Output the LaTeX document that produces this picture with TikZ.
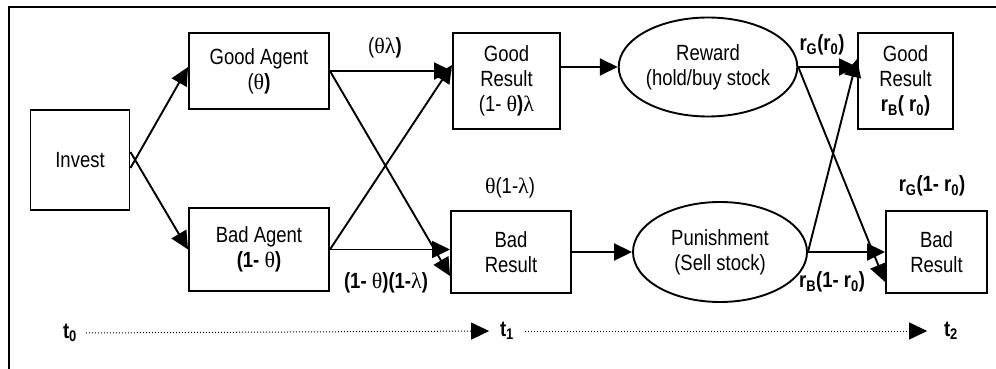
\documentclass[tikz,border=0pt]{standalone}
\usepackage{amsmath}
\usepackage{fontspec}
\setmainfont{Liberation Sans}[FakeStretch=0.84]
\newfontfamily\greekfont{Liberation Serif}
\newcommand{\gth}{{\greekfont θ}}
\newcommand{\glam}{{\greekfont λ}}
\usetikzlibrary{arrows.meta,shapes.geometric}

\tikzset{
  box/.style={draw,line width=1.9pt,inner sep=1pt,align=center},
  oval/.style={draw,ellipse,line width=1.9pt,inner sep=1pt,align=center},
  flow/.style={line width=1.9pt,-{Triangle[length=18pt,width=17pt]}},
  tline/.style={dotted,line width=1pt,-{Triangle[length=18pt,width=17pt]}},
  lbl/.style={inner sep=0.75pt,align=center}
}

\begin{document}
\begin{tikzpicture}[x=1pt,y=1pt,yscale=-1,xscale=1]
\fontsize{22}{25}\selectfont
\useasboundingbox (0,0) rectangle (996,369);

%Frame
\draw[line width=1.6pt] (9,369) -- (9,7) -- (996,7);

%Shapes
\node[box,minimum width=99,minimum height=100] (invest) at (80,160) {Invest};
\node[box,minimum width=140,minimum height=76] (goodagent) at (259,71) {Good Agent\\(\gth\textbf{)}};
\node[box,minimum width=140,minimum height=83] (badagent) at (259,249.5) {Bad Agent\\\textbf{(1-} \gth\textbf{)}};
\node[box,minimum width=107,minimum height=96] (goodres) at (506.5,81) {Good\\Result\\(1- \gth\textbf{)}\glam};
\node[box,minimum width=120,minimum height=82] (badres) at (511,252) {Bad\\Result};
\node[oval,minimum width=171,minimum height=99] (reward) at (708,67) {Reward\\(hold/buy stock};
\node[oval,minimum width=174,minimum height=100] (punish) at (720,252) {Punishment\\(Sell stock)};
\node[box,minimum width=95,minimum height=96] (goodres2) at (905.5,81) {Good\\Result\\\textbf{r\textsubscript{B}( r\textsubscript{0})}};
\node[box,minimum width=101,minimum height=82] (badres2) at (936.5,252) {Bad\\Result};

%Arrows
\draw[flow] ([yshift=8]invest.east) -- ([yshift=-4]goodagent.west);
\draw[flow] ([yshift=-8]invest.east) -- (badagent.west);
\draw[flow] (goodagent.east) -- (goodagent.east -| goodres.west);
\draw[flow] (goodagent.east) -- ([yshift=24]badres.west);
\draw[flow] (badagent.east) -- ([yshift=-16]goodres.west);
\draw[flow] (badagent.east) -- (badagent.east -| badres.west);
\draw[flow] (goodres.east |- reward.west) -- (reward.west);
\draw[flow] (badres.east) -- (punish.west);
\draw[flow] (reward.east) -- (reward.east -| goodres2.west);
\draw[flow] (reward.east) -- ([yshift=30]badres2.west);
\draw[flow] (punish.east) -- ([yshift=-22]goodres2.west);
\draw[flow] (punish.east) -- (badres2.west);

% Text Nodes
\node[lbl] (lgg) at (385,48) {(\gth\glam\textbf{)}};
\node[lbl] (lbb) at (386,283) {\textbf{(1- }\gth\textbf{)(1-}\glam\textbf{)}};
\node[lbl] (lgb) at (510,188) {\gth(1-\glam)};
\node[lbl] (lrg) at (822,45) {\textbf{r\textsubscript{G}(r\textsubscript{0})}};
\node[lbl] (lrb) at (932,186) {\textbf{r\textsubscript{G}(1- r\textsubscript{0})}};
\node[lbl] (lpb) at (832,282) {\textbf{r\textsubscript{B}(1- r\textsubscript{0})}};

%Time line
\node[lbl] (t0) at (70,333) {\textbf{t\textsubscript{0}}};
\node[lbl] (t1) at (507,331) {\textbf{t\textsubscript{1}}};
\node[lbl] (t2) at (951,331) {\textbf{t\textsubscript{2}}};
\draw[tline] ([xshift=8]t0.east) -- ([xshift=-10]t1.west);
\draw[tline] ([xshift=10]t1.east) -- ([xshift=-16]t2.west);

\end{tikzpicture}
\end{document}
